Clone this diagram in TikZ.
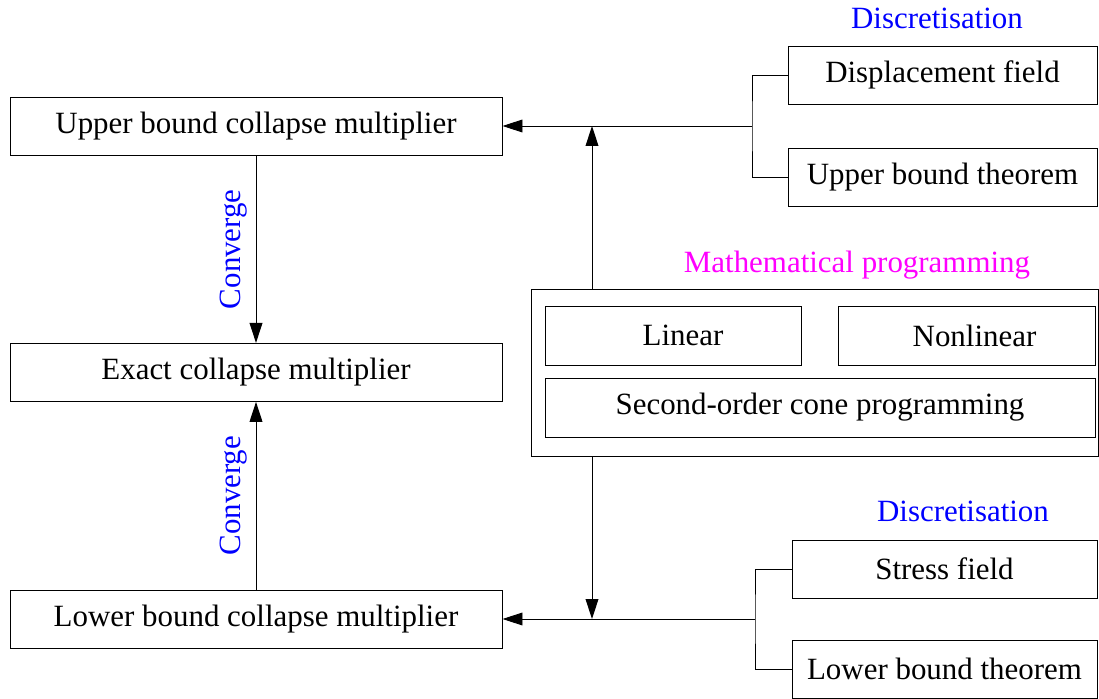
\documentclass[tikz,border=0pt]{standalone}
\usepackage{fontspec}
\setmainfont{Liberation Serif}
\usetikzlibrary{arrows.meta}
\definecolor{mpmagenta}{RGB}{255,0,255}
\definecolor{discblue}{RGB}{0,0,255}
\begin{document}
\begin{tikzpicture}[
    box/.style={draw, line width=0.7pt, inner sep=0pt, minimum height=1.45cm, font=\fontsize{22}{26}\selectfont},
    lbl/.style={font=\fontsize{22}{26}\selectfont},
    tip/.style={-{Triangle[length=0.5cm,width=0.32cm]}},
    wire/.style={line width=0.7pt}
  ]
  \useasboundingbox (0,0) rectangle (27.475,17.45);
  % Bound multipliers (left)
  \node[box, minimum width=12.3cm] (ub) at (6.4,14.3) {Upper bound collapse multiplier};
  \node[box, minimum width=12.3cm] (ex) at (6.4,8.14) {Exact collapse multiplier};
  \node[box, minimum width=12.3cm] (lb) at (6.4,1.975) {Lower bound collapse multiplier};
  % Converge arrows
  \draw[wire, tip] (ub.south) -- (ex.north) node[midway, rotate=90, anchor=south, lbl, text=discblue, yshift=0.1cm]{Converge};
  \draw[wire, tip] (lb.north) -- (ex.south) node[midway, rotate=90, anchor=south, lbl, text=discblue, yshift=0.1cm]{Converge};
  % Upper bound discretisation (top right)
  \node[lbl, text=discblue] (dtop) at (23.425,17.0) {Discretisation};
  \node[box, minimum width=7.725cm] (dsp) at (23.5625,15.575) {Displacement field};
  \node[box, minimum width=7.725cm] (ubt) at (23.5625,13.025) {Upper bound theorem};
  \coordinate (bu) at (18.8,14.3);
  \draw[wire] (dsp.west) -| (bu) |- (ubt.west);
  \draw[wire, tip] (bu) -- (ub.east);
  % Mathematical programming (centre right)
  \node[lbl, text=mpmagenta] (mptitle) at (21.425,10.825) {Mathematical programming};
  \node[box, minimum width=14.175cm, minimum height=4.175cm] (mp) at (20.3625,8.1375) {};
  \node[box, minimum width=6.4cm, minimum height=1.475cm] (lin) at (16.825,9.0625) {\hspace*{0.5cm}Linear};
  \node[box, minimum width=6.425cm, minimum height=1.475cm] (nonlin) at (24.1625,9.0625) {\hspace*{0.4cm}Nonlinear};
  \node[box, minimum width=13.75cm, minimum height=1.475cm] (socp) at (20.5,7.2625) {Second-order cone programming};
  \coordinate (jt) at (14.8,14.3);
  \coordinate (jb) at (14.8,1.975);
  \draw[wire, tip] (mp.north -| jt) -- (jt);
  \draw[wire, tip] (mp.south -| jb) -- (jb);
  % Lower bound discretisation (bottom right)
  \node[lbl, text=discblue] (dbot) at (24.075,4.675) {Discretisation};
  \node[box, minimum width=7.625cm] (sf) at (23.6125,3.225) {Stress field};
  \node[box, minimum width=7.625cm] (lbt) at (23.6125,0.725) {Lower bound theorem};
  \coordinate (bl) at (18.875,1.975);
  \draw[wire] (sf.west) -| (bl) |- (lbt.west);
  \draw[wire, tip] (bl) -- (lb.east);
\end{tikzpicture}
\end{document}
